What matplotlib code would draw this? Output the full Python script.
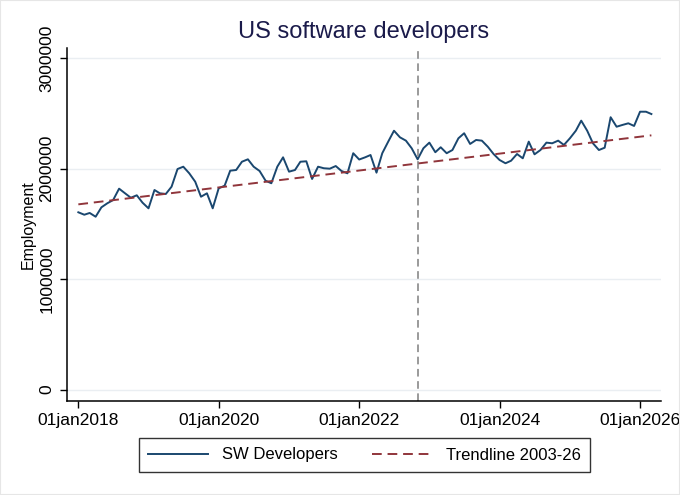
import matplotlib
matplotlib.use("Agg")
import matplotlib.pyplot as plt
import matplotlib.dates as mdates
import numpy as np
import pandas as pd

plt.rcParams['font.family'] = ['Liberation Sans', 'DejaVu Sans']

# monthly employment, jan2018 - mar2026
dates = pd.date_range("2018-01-01", "2026-03-01", freq="MS")
employment = [
    1605000, 1583000, 1599000, 1565000, 1650000, 1687000, 1716000, 1819000,
    1777000, 1737000, 1759000, 1692000, 1641000, 1807000, 1777000, 1771000,
    1837000, 1997000, 2018000, 1958000, 1882000, 1746000, 1777000, 1641000,
    1822000, 1846000, 1982000, 1988000, 2063000, 2085000, 2018000, 1979000,
    1891000, 1868000, 2018000, 2103000, 1973000, 1988000, 2063000, 2067000,
    1907000, 2018000, 2004000, 2000000, 2024000, 1979000, 1958000, 2140000,
    2083000, 2103000, 2124000, 1964000, 2140000, 2245000, 2344000, 2284000,
    2254000, 2185000, 2085000, 2185000, 2236000, 2149000, 2194000, 2140000,
    2169000, 2275000, 2321000, 2224000, 2260000, 2254000, 2199000, 2133000,
    2079000, 2049000, 2072000, 2133000, 2094000, 2245000, 2130000, 2169000,
    2236000, 2230000, 2254000, 2215000, 2275000, 2344000, 2435000, 2344000,
    2230000, 2169000, 2190000, 2466000, 2380000, 2396000, 2411000, 2387000,
    2516000, 2516000, 2495000,
]
# linear trend (fitted 2003-26), values at first and last month
trend_ends = [1677000, 2302000]
chatgpt_date = pd.Timestamp("2022-11-01")

year_ticks = pd.to_datetime(["2018-01-01", "2020-01-01", "2022-01-01", "2024-01-01", "2026-01-01"])
y_ticks = [0, 1000000, 2000000, 3000000]

navy = "#1a476f"
maroon = "#90353b"

fig = plt.figure(figsize=(6.8, 4.95), dpi=100)
ax = fig.add_axes([67 / 680, 94 / 495, 594 / 680, 353 / 495])

ax.plot(dates, employment, color=navy, lw=1.4, label="SW Developers")
ax.plot([dates[0], dates[-1]], trend_ends, color=maroon, lw=1.4,
        ls=(0, (5, 3)), label="Trendline 2003-26")
ax.axvline(chatgpt_date, color="#7f7f7f", lw=1.1, ls=(0, (5, 3)))

ax.set_xlim(pd.Timestamp("2017-11-03"), pd.Timestamp("2026-04-20"))
ax.set_ylim(-104000, 3093000)

ax.set_xticks(year_ticks)
ax.xaxis.set_major_formatter(
    matplotlib.ticker.FuncFormatter(lambda v, p: mdates.num2date(v).strftime("%d%b%Y").lower()))
ax.set_yticks(y_ticks)
ax.set_yticklabels([str(v) for v in y_ticks], rotation=90, va="center")
ax.tick_params(labelsize=12.5, length=5, width=1, color="black", direction="out")
ax.tick_params(axis="y", pad=4)
ax.grid(axis="y", color="#eaeef2", lw=1)
ax.set_axisbelow(True)

for s in ["top", "right"]:
    ax.spines[s].set_visible(False)
for s in ["left", "bottom"]:
    ax.spines[s].set_linewidth(1.1)

ax.set_ylabel("Employment", fontsize=11.5, labelpad=3)

fig.text(364 / 680, 1 - 32 / 495, "US software developers", ha="center", va="center",
         fontsize=17, color="#1a1a4a")

leg = fig.legend(loc="center", bbox_to_anchor=(364.5 / 680, 40 / 495), ncol=2,
                 fontsize=12, frameon=True, fancybox=False, edgecolor="black",
                 handlelength=3.6, columnspacing=2.1, borderpad=0.55)
leg.get_frame().set_linewidth(1.0)

fig.patches.append(plt.Rectangle((0, 0), 1, 1, transform=fig.transFigure,
                                 fill=False, edgecolor="#e6e6e6", lw=1.5))

fig.savefig("out.png", dpi=100, facecolor="white")
